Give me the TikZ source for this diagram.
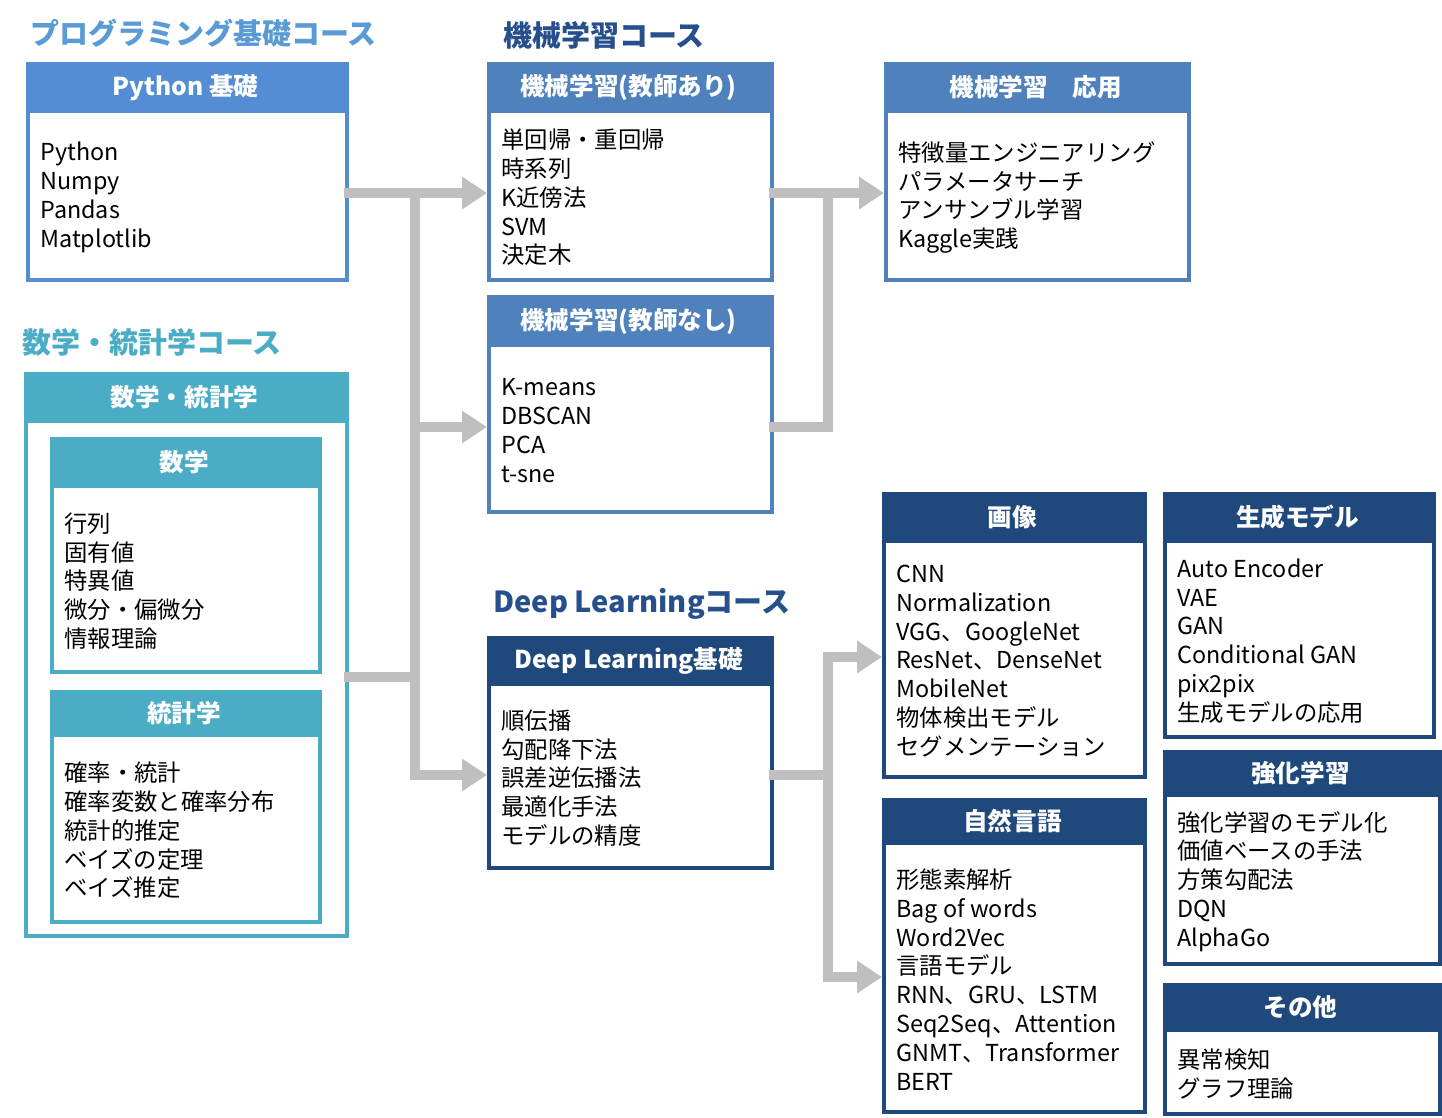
\documentclass[tikz,border=0pt]{standalone}
\usepackage{fontspec}
\setmainfont{Noto Sans CJK JP}
\usetikzlibrary{arrows.meta}

\definecolor{pycol}{RGB}{84,141,212}
\definecolor{pyhead}{RGB}{91,155,213}
\definecolor{mathcol}{RGB}{75,172,198}
\definecolor{mlcol}{RGB}{79,129,189}
\definecolor{mlhead}{RGB}{38,79,140}
\definecolor{dlcol}{RGB}{31,73,125}
\definecolor{flowcol}{RGB}{191,191,191}

\tikzset{
  box/.style={draw=#1, line width=0.08cm, fill=white, inner sep=0pt},
  hdr/.style={text=white, font=\fontsize{14}{16}\selectfont\bfseries},
  item/.style={align=left, inner sep=0pt, font=\fontsize{13.3}{16.4}\selectfont},
  course/.style={text=#1, anchor=west, inner sep=0pt, font=\fontsize{16.5}{19}\selectfont\bfseries},
  flow/.style={draw=flowcol, line width=0.2cm, line cap=rect},
  tip/.style={-{Triangle[width=0.62cm,length=0.5cm]}}
}

% name, x, y, width, height, header height, colour, title, items
\newcommand{\coursebox}[9]{%
  \node[box=#7, minimum width=#4*0.02cm, minimum height=#5*0.02cm, anchor=north west] (#1) at (#2,#3) {};
  \fill[#7] (#1.north west) rectangle ++(#4,#6);
  \node[hdr] (#1-t) at ([shift={(#4/2,#6/2)}]#1.north west) {#8};
  \node[item, anchor=west] (#1-i) at ([shift={(14,#6/2)}]#1.west) {#9};
}

\begin{document}
\begin{tikzpicture}[x=0.02cm, y=-0.02cm]
\useasboundingbox (0,0) rectangle (1442,1117);

% course headings
\node[course=pyhead] (hpy) at (30,33) {プログラミング基礎コース};
\node[course=mathcol] (hmath) at (22,342) {数学・統計学コース};
\node[course=mlhead] (hml) at (503,35) {機械学習コース};
\node[course=mlhead] (hdl) at (493,604) {Deep Learningコース};

% programming / math
\coursebox{py}{26}{62}{319}{216}{51}{pycol}{Python 基礎}{Python\\Numpy\\Pandas\\Matplotlib}
\coursebox{math}{24}{372}{321}{562}{51}{mathcol}{数学・統計学}{}
\coursebox{mat}{50}{437}{268}{233}{51}{mathcol}{数学}{行列\\固有値\\特異値\\微分・偏微分\\情報理論}
\coursebox{stat}{50}{690}{268}{230}{47}{mathcol}{統計学}{確率・統計\\確率変数と確率分布\\統計的推定\\ベイズの定理\\ベイズ推定}

% machine learning
\coursebox{sup}{487}{62}{283}{216}{51}{mlcol}{機械学習(教師あり)}{単回帰・重回帰\\時系列\\K近傍法\\SVM\\決定木}
\coursebox{uns}{487}{295}{283}{215}{52}{mlcol}{機械学習(教師なし)}{K-means\\DBSCAN\\PCA\\t-sne}
\coursebox{app}{884}{62}{303}{216}{51}{mlcol}{機械学習　応用}{特徴量エンジニアリング\\パラメータサーチ\\アンサンブル学習\\Kaggle実践}

% deep learning
\coursebox{dl}{487}{636}{283}{230}{50}{dlcol}{Deep Learning基礎}{順伝播\\勾配降下法\\誤差逆伝播法\\最適化手法\\モデルの精度}
\coursebox{img}{882}{492}{261}{283}{51}{dlcol}{画像}{CNN\\Normalization\\VGG、GoogleNet\\ResNet、DenseNet\\MobileNet\\物体検出モデル\\セグメンテーション}
\coursebox{nlp}{882}{798}{261}{312}{47}{dlcol}{自然言語}{形態素解析\\Bag of words\\Word2Vec\\言語モデル\\RNN、GRU、LSTM\\Seq2Seq、Attention\\GNMT、Transformer\\BERT}
\coursebox{gen}{1163}{492}{269}{243}{51}{dlcol}{生成モデル}{Auto Encoder\\VAE\\GAN\\Conditional GAN\\pix2pix\\生成モデルの応用}
\coursebox{rl}{1163}{750}{275}{212}{47}{dlcol}{強化学習}{強化学習のモデル化\\価値ベースの手法\\方策勾配法\\DQN\\AlphaGo}
\coursebox{etc}{1163}{983}{275}{129}{49}{dlcol}{その他}{異常検知\\グラフ理論}

% connectors
\coordinate (ja) at (415,193);
\coordinate (jb) at (415,427);
\coordinate (jc) at (415,775);
\coordinate (jd) at (415,677);
\draw[flow] (ja) -- (jc);
\draw[flow,tip] (py.east|-ja) -- (sup.west|-ja);
\draw[flow,tip] (jb) -- (uns.west|-jb);
\draw[flow,tip] (jc) -- (dl.west|-jc);
\draw[flow] (math.east|-jd) -- (jd);

\coordinate (ka) at (828,193);
\coordinate (kb) at (828,427);
\draw[flow] (ka) -- (kb);
\draw[flow,tip] (sup.east|-ka) -- (app.west|-ka);
\draw[flow] (uns.east|-kb) -- (kb);

\coordinate (la) at (828,657);
\coordinate (lb) at (828,977);
\coordinate (lc) at (828,775);
\draw[flow] (la) -- (lb);
\draw[flow] (dl.east|-lc) -- (lc);
\draw[flow,tip] (la) -- (img.west|-la);
\draw[flow,tip] (lb) -- (nlp.west|-lb);
\end{tikzpicture}
\end{document}
